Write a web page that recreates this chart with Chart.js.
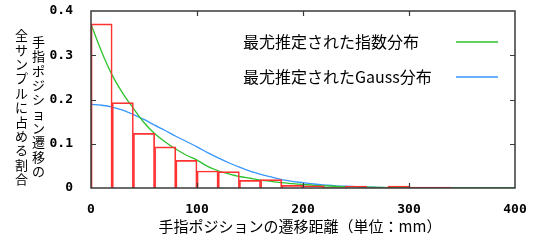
<!DOCTYPE html>
<html>
<head>
<meta charset="utf-8">
<script src="https://cdn.jsdelivr.net/npm/chart.js@4.4.1/dist/chart.umd.min.js"></script>
<style>
  html, body { margin: 0; padding: 0; background: #fff; }
</style>
</head>
<body>
<canvas id="histChart" width="535" height="240"></canvas>
<script>
// histogram bins (bin centre in mm, width 20 mm)
var binCenters = [10, 30, 50, 70, 90, 110, 130, 150, 170, 190, 210, 230, 250, 270, 290, 310, 330];
var binValues = [0.371, 0.193, 0.1235, 0.093, 0.0625, 0.0385, 0.037, 0.0174, 0.019, 0.006, 0.005, 0.001, 0.0045, 0.0005, 0.0045, 0.002, 0.002];

// fitted curves
var curveX = [0, 10, 20, 30, 40, 50, 60, 70, 80, 90, 100, 110, 120, 130, 140, 150, 160, 170, 180, 190, 200, 210, 220, 230, 240, 250, 260, 270, 280, 290, 300, 350, 400];
var expValues = [0.370, 0.308, 0.255, 0.214, 0.180, 0.148, 0.123, 0.104, 0.088, 0.074, 0.063, 0.049, 0.039, 0.032, 0.026, 0.022, 0.018, 0.015, 0.012, 0.010, 0.008, 0.006, 0.005, 0.004, 0.003, 0.0025, 0.002, 0.0015, 0.001, 0.001, 0.001, 0.0005, 0.0003];
var gaussValues = [0.189, 0.187, 0.183, 0.176, 0.166, 0.155, 0.142, 0.130, 0.117, 0.105, 0.093, 0.080, 0.068, 0.057, 0.047, 0.038, 0.031, 0.025, 0.019, 0.015, 0.012, 0.009, 0.007, 0.005, 0.004, 0.003, 0.002, 0.0015, 0.001, 0.0008, 0.0005, 0.0002, 0.0001];

var xTickLabels = ['0', '100', '200', '300', '400'];
var yTickLabels = ['0', '0.1', '0.2', '0.3', '0.4'];

var legendLabels = ['最尤推定された指数分布', '最尤推定されたGauss分布'];
var xTitle = '手指ポジションの遷移距離（単位：mm）';
var yTitleLines = ['手指ポジション遷移の', '全サンプルに占める割合'];

var RED = 'rgb(255, 50, 50)';
var GREEN = 'rgb(45, 195, 45)';
var BLUE = 'rgb(55, 150, 255)';
var JP_FONT = '"Noto Sans CJK JP", "Noto Sans", sans-serif';
var TICK_FONT = { family: '"DejaVu Sans Mono", monospace', size: 13, weight: 'bold' };

function toPoints(xs, ys) {
    return xs.map(function (x, i) { return { x: x, y: ys[i] }; });
}

// frame with inward ticks, gnuplot style
var framePlugin = {
    id: 'frame',
    afterDatasetsDraw: function (chart) {
        var ctx = chart.ctx;
        var a = chart.chartArea;
        var xs = chart.scales.x, ys = chart.scales.y;
        ctx.save();
        ctx.strokeStyle = '#3a3a3a';
        ctx.lineWidth = 1.5;
        ctx.strokeRect(a.left, a.top, a.right - a.left, a.bottom - a.top);
        ctx.lineWidth = 1.2;
        ctx.beginPath();
        [100, 200, 300].forEach(function (v) {
            var px = Math.round(xs.getPixelForValue(v)) + 0.5;
            ctx.moveTo(px, a.bottom); ctx.lineTo(px, a.bottom - 5);
            ctx.moveTo(px, a.top); ctx.lineTo(px, a.top + 5);
        });
        [0.1, 0.2, 0.3].forEach(function (v) {
            var py = Math.round(ys.getPixelForValue(v)) + 0.5;
            ctx.moveTo(a.left, py); ctx.lineTo(a.left + 5, py);
            ctx.moveTo(a.right, py); ctx.lineTo(a.right - 5, py);
        });
        ctx.stroke();
        ctx.restore();
    }
};

// legend, axis titles
var textPlugin = {
    id: 'texts',
    afterDraw: function (chart) {
        var ctx = chart.ctx;
        ctx.save();
        ctx.fillStyle = '#000';
        ctx.textBaseline = 'middle';

        // legend
        ctx.font = '16px ' + JP_FONT;
        ctx.textAlign = 'left';
        var legendColors = [GREEN, BLUE];
        var legendY = [42, 77];
        legendLabels.forEach(function (t, i) {
            ctx.fillStyle = '#000';
            ctx.fillText(t, 243, legendY[i]);
            ctx.strokeStyle = legendColors[i];
            ctx.lineWidth = 1.5;
            ctx.beginPath();
            ctx.moveTo(456, legendY[i]);
            ctx.lineTo(498, legendY[i]);
            ctx.stroke();
        });

        // x title
        ctx.font = '15px ' + JP_FONT;
        ctx.textAlign = 'center';
        ctx.fillStyle = '#000';
        ctx.fillText(xTitle, 300, 226);

        // y title, written vertically in two columns
        ctx.font = '13px ' + JP_FONT;
        var colX = [38.5, 21.5];
        var colTop = [42, 35.5];
        yTitleLines.forEach(function (line, c) {
            Array.from(line).forEach(function (ch, i) {
                ctx.fillText(ch, colX[c], colTop[c] + i * 14.35);
            });
        });
        ctx.restore();
    }
};

var ctx = document.getElementById('histChart').getContext('2d');
var histChart = new Chart(ctx, {
    type: 'line',
    data: {
        datasets: [
            {
                type: 'bar',
                label: 'histogram',
                data: toPoints(binCenters, binValues),
                backgroundColor: 'rgba(0,0,0,0)',
                borderColor: RED,
                borderWidth: 1,
                borderSkipped: 'start',
                categoryPercentage: 1.0,
                barPercentage: 1.0,
                order: 1
            },
            {
                label: legendLabels[0],
                data: toPoints(curveX, expValues),
                borderColor: GREEN,
                borderWidth: 1.3,
                pointRadius: 0,
                cubicInterpolationMode: 'monotone',
                fill: false,
                order: 2
            },
            {
                label: legendLabels[1],
                data: toPoints(curveX, gaussValues),
                borderColor: BLUE,
                borderWidth: 1.3,
                pointRadius: 0,
                cubicInterpolationMode: 'monotone',
                fill: false,
                order: 3
            }
        ]
    },
    options: {
        responsive: false,
        animation: false,
        layout: { padding: { top: 11, right: 20, left: 0, bottom: 0 } },
        scales: {
            x: {
                type: 'linear',
                min: 0,
                max: 400,
                offset: false,
                grid: { display: false, offset: false },
                border: { display: false },
                ticks: {
                    stepSize: 100,
                    maxRotation: 0,
                    padding: 6,
                    color: '#000',
                    font: TICK_FONT,
                    callback: function (v) { return xTickLabels[Math.round(v / 100)]; }
                },
                afterFit: function (scale) {
                    scale.height = 52;
                    scale.paddingLeft = 0;
                    scale.paddingRight = 0;
                }
            },
            y: {
                min: 0,
                max: 0.4,
                grid: { display: false },
                border: { display: false },
                ticks: {
                    stepSize: 0.1,
                    padding: 10,
                    color: '#000',
                    font: TICK_FONT,
                    callback: function (v) { return yTickLabels[Math.round(v * 10)]; }
                },
                afterFit: function (scale) {
                    scale.width = 91;
                    scale.paddingTop = 0;
                    scale.paddingBottom = 0;
                }
            }
        },
        plugins: {
            legend: { display: false },
            title: { display: false },
            tooltip: { enabled: false }
        }
    },
    plugins: [framePlugin, textPlugin]
});
</script>
</body>
</html>
